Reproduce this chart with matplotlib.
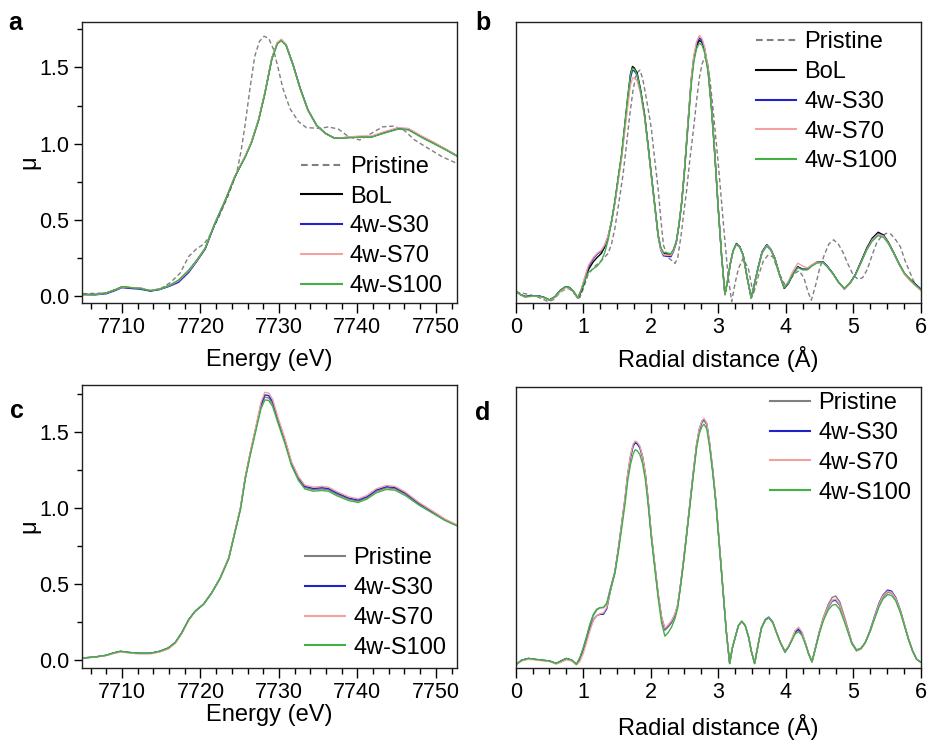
import matplotlib
matplotlib.use('Agg')
import matplotlib.pyplot as plt
from matplotlib.ticker import MultipleLocator

plt.rcParams['font.family'] = ['Liberation Sans', 'DejaVu Sans']

# ---- panel a: XANES, pristine vs cycled ----
e_pris_a = [7705.0, 7708.0, 7710.0, 7712.6, 7713.6, 7715.0, 7716.2, 7717.4, 7718.5, 7719.5,
            7720.4, 7721.0, 7722.3, 7723.5, 7724.6, 7725.2, 7725.7, 7726.3, 7726.9, 7727.5,
            7728.1, 7728.7, 7729.3, 7729.8, 7730.5, 7731.4, 7732.5, 7733.5, 7735.3, 7736.3,
            7737.6, 7738.9, 7740.3, 7741.8, 7743.2, 7744.5, 7745.8, 7747.3, 7749.0, 7750.8, 7752.7]
mu_pris_a = [0.015, 0.02, 0.06, 0.05, 0.035, 0.05, 0.09, 0.15, 0.26, 0.31,
             0.34, 0.38, 0.515, 0.655, 0.805, 0.96, 1.13, 1.36, 1.57, 1.67,
             1.705, 1.69, 1.62, 1.516, 1.363, 1.23, 1.144, 1.105, 1.10, 1.11,
             1.095, 1.045, 1.024, 1.068, 1.11, 1.115, 1.095, 1.024, 0.97, 0.914, 0.87]

e_a = [7705.0, 7706.6, 7708.0, 7709.1, 7710.0, 7711.0, 7712.3, 7713.6, 7714.8, 7716.1,
       7717.2, 7718.5, 7719.5, 7720.6, 7721.8, 7723.1, 7724.4, 7725.7, 7726.5, 7727.4,
       7728.2, 7729.1, 7729.8, 7730.3, 7730.9, 7731.8, 7732.7, 7733.7, 7734.8, 7735.9,
       7737.1, 7738.6, 7740.3, 7741.8, 7743.5, 7745.2, 7746.5, 7748.2, 7749.9, 7751.4, 7752.7]
mu_bol_a = [0.01, 0.01, 0.02, 0.04, 0.06, 0.055, 0.05, 0.035, 0.045, 0.07,
            0.10, 0.165, 0.23, 0.31, 0.47, 0.62, 0.785, 0.915, 1.01, 1.155,
            1.33, 1.56, 1.66, 1.68, 1.647, 1.516, 1.363, 1.22, 1.12, 1.068,
            1.035, 1.04, 1.045, 1.045, 1.074, 1.10, 1.095, 1.045, 1.00, 0.958, 0.92]
mu_s30_a = [0.01, 0.008, 0.015, 0.035, 0.055, 0.05, 0.045, 0.032, 0.042, 0.065,
            0.09, 0.155, 0.225, 0.31, 0.47, 0.62, 0.785, 0.915, 1.01, 1.155,
            1.33, 1.56, 1.66, 1.682, 1.65, 1.52, 1.365, 1.22, 1.12, 1.068,
            1.035, 1.04, 1.045, 1.045, 1.074, 1.10, 1.095, 1.045, 1.00, 0.958, 0.92]
mu_s70_a = [0.01, 0.01, 0.02, 0.04, 0.058, 0.057, 0.052, 0.037, 0.045, 0.07,
            0.10, 0.165, 0.23, 0.315, 0.475, 0.625, 0.79, 0.92, 1.015, 1.16,
            1.335, 1.565, 1.665, 1.685, 1.65, 1.516, 1.36, 1.218, 1.118, 1.066,
            1.035, 1.042, 1.05, 1.05, 1.08, 1.105, 1.10, 1.05, 1.005, 0.96, 0.922]
mu_s100_a = [0.01, 0.01, 0.02, 0.04, 0.06, 0.055, 0.05, 0.035, 0.045, 0.072,
             0.105, 0.17, 0.235, 0.315, 0.475, 0.622, 0.785, 0.912, 1.005, 1.15,
             1.325, 1.555, 1.655, 1.675, 1.645, 1.515, 1.362, 1.22, 1.12, 1.068,
             1.035, 1.038, 1.042, 1.042, 1.07, 1.095, 1.09, 1.04, 0.995, 0.955, 0.918]

# ---- panel b: FT-EXAFS, pristine vs cycled ----
r_pris_b = [0.0, 0.1, 0.2, 0.3, 0.4, 0.48, 0.56, 0.63, 0.7, 0.78, 0.84, 0.9, 0.95, 1.0, 1.07,
            1.15, 1.22, 1.3, 1.37, 1.42, 1.47, 1.53, 1.59, 1.64, 1.69, 1.74, 1.79, 1.84, 1.88,
            1.92, 1.97, 2.01, 2.06, 2.11, 2.15, 2.19, 2.26, 2.32, 2.36, 2.40, 2.45, 2.49, 2.53,
            2.58, 2.63, 2.68, 2.72, 2.76, 2.80, 2.84, 2.88, 2.92, 2.96, 3.0, 3.05, 3.1, 3.15,
            3.2, 3.25, 3.3, 3.37, 3.45, 3.52, 3.6, 3.67, 3.74, 3.81, 3.88, 3.94, 4.0, 4.06,
            4.13, 4.2, 4.27, 4.33, 4.38, 4.44, 4.5, 4.57, 4.64, 4.71, 4.78, 4.85, 4.92, 5.0,
            5.07, 5.14, 5.21, 5.28, 5.35, 5.42, 5.49, 5.56, 5.63, 5.7, 5.77, 5.84, 5.91, 6.0]
ft_pris_b = [0.038, 0.035, 0.03, 0.024, 0.014, 0.005, 0.012, 0.03, 0.045, 0.052, 0.042, 0.025, 0.019, 0.05, 0.1,
             0.125, 0.141, 0.158, 0.177, 0.21, 0.266, 0.36, 0.456, 0.56, 0.669, 0.76, 0.817, 0.829, 0.80,
             0.75, 0.68, 0.62, 0.51, 0.408, 0.3, 0.205, 0.161, 0.15, 0.141, 0.16, 0.24, 0.32, 0.396,
             0.51, 0.61, 0.72, 0.80, 0.85, 0.875, 0.86, 0.79, 0.70, 0.60, 0.50, 0.36, 0.22, 0.09,
             0.005, 0.07, 0.123, 0.159, 0.12, 0.03, 0.1, 0.15, 0.171, 0.165, 0.12, 0.088, 0.06, 0.08,
             0.105, 0.115, 0.09, 0.04, 0.01, 0.06, 0.12, 0.17, 0.21, 0.225, 0.21, 0.18, 0.14, 0.1,
             0.085, 0.09, 0.12, 0.17, 0.215, 0.238, 0.248, 0.245, 0.225, 0.2, 0.15, 0.11, 0.07, 0.045]

r_b = [0.0, 0.07, 0.14, 0.24, 0.33, 0.42, 0.5, 0.58, 0.66, 0.74, 0.8, 0.86, 0.92, 0.97, 1.02,
       1.08, 1.15, 1.21, 1.27, 1.32, 1.37, 1.42, 1.47, 1.52, 1.57, 1.62, 1.66, 1.70, 1.73, 1.76,
       1.80, 1.85, 1.91, 1.96, 2.01, 2.06, 2.11, 2.15, 2.19, 2.25, 2.30, 2.34, 2.38, 2.42, 2.46,
       2.50, 2.55, 2.60, 2.64, 2.68, 2.72, 2.76, 2.80, 2.85, 2.90, 2.95, 3.00, 3.05, 3.10, 3.14,
       3.18, 3.22, 3.27, 3.32, 3.37, 3.43, 3.49, 3.54, 3.59, 3.65, 3.72, 3.78, 3.84, 3.91, 3.98,
       4.04, 4.1, 4.18, 4.25, 4.32, 4.38, 4.46, 4.55, 4.62, 4.70, 4.78, 4.87, 4.95, 5.03, 5.12,
       5.20, 5.28, 5.37, 5.45, 5.52, 5.60, 5.68, 5.76, 5.84, 5.92, 6.0]
ft_bol_b = [0.043, 0.03, 0.023, 0.026, 0.026, 0.02, 0.011, 0.022, 0.045, 0.058, 0.055, 0.04, 0.017, 0.04, 0.076,
            0.12, 0.147, 0.163, 0.177, 0.2, 0.235, 0.29, 0.36, 0.445, 0.527, 0.64, 0.73, 0.815, 0.842, 0.836,
            0.818, 0.76, 0.669, 0.565, 0.456, 0.35, 0.242, 0.195, 0.177, 0.175, 0.173, 0.19, 0.218, 0.28, 0.36,
            0.47, 0.63, 0.788, 0.87, 0.915, 0.935, 0.928, 0.9, 0.83, 0.70, 0.53, 0.34, 0.17, 0.03, 0.08,
            0.14, 0.185, 0.212, 0.2, 0.171, 0.09, 0.017, 0.07, 0.123, 0.18, 0.206, 0.19, 0.159, 0.1, 0.052,
            0.07, 0.1, 0.129, 0.12, 0.12, 0.133, 0.145, 0.147, 0.13, 0.105, 0.075, 0.05, 0.07, 0.10, 0.15,
            0.195, 0.23, 0.252, 0.242, 0.217, 0.18, 0.14, 0.105, 0.085, 0.068, 0.05]
ft_s30_b = [0.043, 0.03, 0.023, 0.026, 0.026, 0.02, 0.011, 0.022, 0.045, 0.058, 0.055, 0.04, 0.017, 0.045, 0.085,
            0.13, 0.158, 0.175, 0.185, 0.205, 0.238, 0.29, 0.36, 0.445, 0.525, 0.635, 0.722, 0.8, 0.828, 0.826,
            0.81, 0.755, 0.667, 0.562, 0.452, 0.345, 0.238, 0.188, 0.168, 0.166, 0.165, 0.185, 0.215, 0.28, 0.36,
            0.47, 0.632, 0.792, 0.876, 0.922, 0.943, 0.935, 0.905, 0.832, 0.70, 0.53, 0.34, 0.17, 0.03, 0.08,
            0.14, 0.185, 0.21, 0.2, 0.171, 0.09, 0.017, 0.072, 0.126, 0.183, 0.208, 0.192, 0.16, 0.1, 0.052,
            0.07, 0.1, 0.129, 0.12, 0.12, 0.133, 0.145, 0.147, 0.13, 0.105, 0.075, 0.05, 0.07, 0.10, 0.148,
            0.192, 0.226, 0.248, 0.24, 0.215, 0.178, 0.138, 0.104, 0.083, 0.066, 0.05]
ft_s70_b = [0.043, 0.03, 0.02, 0.024, 0.024, 0.018, 0.01, 0.02, 0.04, 0.055, 0.053, 0.04, 0.017, 0.048, 0.09,
            0.135, 0.162, 0.178, 0.188, 0.208, 0.24, 0.29, 0.355, 0.435, 0.515, 0.62, 0.70, 0.775, 0.80, 0.803,
            0.79, 0.745, 0.66, 0.558, 0.45, 0.345, 0.24, 0.19, 0.172, 0.17, 0.17, 0.188, 0.218, 0.282, 0.362,
            0.472, 0.636, 0.798, 0.882, 0.93, 0.952, 0.942, 0.91, 0.835, 0.70, 0.53, 0.34, 0.17, 0.03, 0.08,
            0.14, 0.184, 0.208, 0.198, 0.17, 0.09, 0.017, 0.07, 0.122, 0.18, 0.205, 0.19, 0.158, 0.1, 0.055,
            0.078, 0.11, 0.142, 0.132, 0.125, 0.135, 0.145, 0.145, 0.128, 0.103, 0.073, 0.05, 0.068, 0.098, 0.146,
            0.19, 0.224, 0.245, 0.238, 0.214, 0.178, 0.138, 0.102, 0.08, 0.062, 0.045]
ft_s100_b = [0.045, 0.03, 0.022, 0.025, 0.025, 0.02, 0.011, 0.022, 0.045, 0.058, 0.055, 0.04, 0.02, 0.045, 0.078,
             0.11, 0.122, 0.132, 0.15, 0.18, 0.225, 0.29, 0.365, 0.45, 0.532, 0.645, 0.735, 0.812, 0.836, 0.832,
             0.812, 0.755, 0.665, 0.562, 0.455, 0.35, 0.245, 0.197, 0.18, 0.178, 0.176, 0.192, 0.22, 0.28, 0.358,
             0.465, 0.62, 0.775, 0.86, 0.905, 0.925, 0.918, 0.89, 0.822, 0.69, 0.525, 0.338, 0.17, 0.032, 0.08,
             0.14, 0.185, 0.21, 0.198, 0.17, 0.09, 0.02, 0.07, 0.122, 0.178, 0.203, 0.188, 0.156, 0.1, 0.055,
             0.072, 0.1, 0.126, 0.118, 0.118, 0.13, 0.142, 0.144, 0.128, 0.104, 0.075, 0.052, 0.07, 0.098, 0.145,
             0.188, 0.22, 0.24, 0.234, 0.212, 0.178, 0.14, 0.106, 0.085, 0.065, 0.048]

# ---- panel c: XANES, pristine vs soaked ----
e_c = [7705.0, 7706.6, 7708.0, 7708.9, 7709.8, 7710.8, 7712.1, 7713.6, 7714.8, 7715.9,
       7716.8, 7717.6, 7718.5, 7719.3, 7720.4, 7721.4, 7722.5, 7723.6, 7724.4, 7725.1,
       7725.7, 7726.3, 7727.2, 7727.7, 7728.2, 7728.7, 7729.2, 7729.9, 7730.8, 7731.6,
       7732.5, 7733.3, 7734.4, 7735.5, 7736.3, 7737.4, 7738.9, 7740.1, 7741.2, 7742.4,
       7743.7, 7744.8, 7746.1, 7747.8, 7749.5, 7751.2, 7752.7]
mu_pris_c = [0.011, 0.018, 0.029, 0.044, 0.055, 0.048, 0.042, 0.042, 0.055, 0.077,
             0.114, 0.176, 0.264, 0.318, 0.367, 0.439, 0.538, 0.67, 0.845, 0.999,
             1.197, 1.35, 1.555, 1.67, 1.73, 1.725, 1.685, 1.57, 1.43, 1.29,
             1.19, 1.135, 1.12, 1.125, 1.12, 1.09, 1.058, 1.045, 1.067, 1.11,
             1.133, 1.127, 1.092, 1.028, 0.974, 0.92, 0.884]
mu_s30_c = [0.011, 0.018, 0.029, 0.044, 0.055, 0.048, 0.042, 0.042, 0.055, 0.077,
            0.114, 0.176, 0.264, 0.318, 0.367, 0.439, 0.538, 0.67, 0.845, 0.999,
            1.197, 1.35, 1.56, 1.68, 1.745, 1.74, 1.70, 1.58, 1.44, 1.295,
            1.197, 1.142, 1.128, 1.133, 1.128, 1.098, 1.065, 1.052, 1.074, 1.118,
            1.14, 1.134, 1.098, 1.032, 0.977, 0.922, 0.885]
mu_s70_c = [0.011, 0.017, 0.027, 0.04, 0.05, 0.045, 0.038, 0.038, 0.05, 0.07,
            0.108, 0.17, 0.26, 0.316, 0.366, 0.438, 0.538, 0.672, 0.848, 1.004,
            1.203, 1.357, 1.57, 1.695, 1.762, 1.757, 1.715, 1.592, 1.45, 1.305,
            1.205, 1.15, 1.137, 1.142, 1.137, 1.107, 1.073, 1.06, 1.082, 1.126,
            1.148, 1.142, 1.105, 1.038, 0.982, 0.926, 0.888]
mu_s100_c = [0.011, 0.018, 0.029, 0.044, 0.055, 0.048, 0.042, 0.042, 0.055, 0.077,
             0.114, 0.176, 0.264, 0.318, 0.365, 0.436, 0.534, 0.664, 0.838, 0.99,
             1.186, 1.338, 1.54, 1.652, 1.712, 1.708, 1.668, 1.556, 1.418, 1.278,
             1.18, 1.125, 1.11, 1.115, 1.11, 1.08, 1.048, 1.036, 1.058, 1.1,
             1.122, 1.117, 1.082, 1.02, 0.968, 0.916, 0.882]

# ---- panel d: FT-EXAFS, pristine vs soaked ----
r_d = [0.0, 0.09, 0.19, 0.28, 0.38, 0.5, 0.6, 0.68, 0.75, 0.83, 0.9, 0.95, 1.0, 1.05, 1.1,
       1.15, 1.2, 1.25, 1.3, 1.35, 1.4, 1.47, 1.52, 1.57, 1.62, 1.66, 1.70, 1.74, 1.77, 1.80,
       1.84, 1.88, 1.92, 1.96, 2.01, 2.06, 2.11, 2.16, 2.21, 2.26, 2.31, 2.36, 2.40, 2.44, 2.48,
       2.53, 2.58, 2.63, 2.68, 2.72, 2.76, 2.79, 2.83, 2.87, 2.92, 2.97, 3.02, 3.07, 3.12, 3.17,
       3.21, 3.26, 3.30, 3.35, 3.40, 3.45, 3.49, 3.54, 3.59, 3.64, 3.70, 3.75, 3.81, 3.86, 3.92,
       3.99, 4.04, 4.09, 4.14, 4.19, 4.24, 4.29, 4.34, 4.39, 4.45, 4.50, 4.56, 4.63, 4.69, 4.74,
       4.80, 4.86, 4.92, 4.98, 5.05, 5.12, 5.18, 5.25, 5.32, 5.38, 5.44, 5.51, 5.57, 5.63, 5.70,
       5.76, 5.82, 5.88, 5.94, 6.0]
ft_pris_d = [0.01, 0.027, 0.033, 0.03, 0.027, 0.024, 0.015, 0.025, 0.033, 0.027, 0.012, 0.035, 0.069, 0.11, 0.152,
             0.185, 0.205, 0.213, 0.214, 0.23, 0.28, 0.342, 0.42, 0.51, 0.6, 0.686, 0.75, 0.79, 0.804, 0.80,
             0.785, 0.75, 0.69, 0.60, 0.47, 0.365, 0.26, 0.176, 0.133, 0.145, 0.16, 0.185, 0.22, 0.29, 0.365,
             0.47, 0.58, 0.69, 0.79, 0.845, 0.872, 0.88, 0.865, 0.80, 0.70, 0.58, 0.43, 0.28, 0.13, 0.015,
             0.07, 0.115, 0.15, 0.165, 0.15, 0.11, 0.06, 0.015, 0.08, 0.14, 0.17, 0.178, 0.16, 0.128, 0.09,
             0.057, 0.075, 0.1, 0.13, 0.14, 0.125, 0.09, 0.05, 0.021, 0.08, 0.13, 0.18, 0.225, 0.25, 0.255,
             0.235, 0.19, 0.14, 0.09, 0.063, 0.07, 0.09, 0.13, 0.18, 0.22, 0.25, 0.268, 0.265, 0.245, 0.2,
             0.15, 0.1, 0.06, 0.03, 0.02]
ft_s30_d = [0.01, 0.027, 0.033, 0.03, 0.027, 0.024, 0.015, 0.025, 0.033, 0.027, 0.012, 0.03, 0.062, 0.1, 0.14,
            0.17, 0.185, 0.19, 0.19, 0.21, 0.27, 0.34, 0.42, 0.51, 0.6, 0.686, 0.748, 0.788, 0.8, 0.796,
            0.782, 0.748, 0.69, 0.60, 0.47, 0.365, 0.262, 0.18, 0.138, 0.15, 0.165, 0.19, 0.222, 0.29, 0.365,
            0.47, 0.58, 0.69, 0.792, 0.848, 0.876, 0.884, 0.868, 0.802, 0.70, 0.58, 0.43, 0.28, 0.13, 0.015,
            0.07, 0.115, 0.15, 0.165, 0.15, 0.11, 0.06, 0.015, 0.08, 0.142, 0.172, 0.18, 0.162, 0.128, 0.09,
            0.055, 0.073, 0.098, 0.126, 0.136, 0.122, 0.088, 0.05, 0.021, 0.078, 0.127, 0.175, 0.215, 0.237, 0.24,
            0.222, 0.18, 0.135, 0.088, 0.06, 0.068, 0.09, 0.132, 0.185, 0.228, 0.258, 0.276, 0.272, 0.25, 0.204,
            0.153, 0.102, 0.06, 0.03, 0.02]
ft_s70_d = [0.01, 0.024, 0.03, 0.028, 0.025, 0.022, 0.013, 0.02, 0.028, 0.024, 0.01, 0.022, 0.05, 0.09, 0.132,
            0.168, 0.185, 0.192, 0.195, 0.215, 0.272, 0.34, 0.42, 0.512, 0.605, 0.69, 0.755, 0.795, 0.806, 0.802,
            0.788, 0.752, 0.692, 0.602, 0.475, 0.37, 0.265, 0.182, 0.14, 0.152, 0.167, 0.192, 0.225, 0.292, 0.368,
            0.472, 0.582, 0.692, 0.794, 0.85, 0.878, 0.886, 0.87, 0.805, 0.705, 0.585, 0.435, 0.282, 0.13, 0.015,
            0.07, 0.115, 0.15, 0.165, 0.15, 0.11, 0.06, 0.015, 0.08, 0.14, 0.17, 0.178, 0.16, 0.128, 0.09,
            0.057, 0.076, 0.102, 0.132, 0.144, 0.128, 0.09, 0.05, 0.021, 0.078, 0.128, 0.177, 0.218, 0.24, 0.244,
            0.225, 0.182, 0.136, 0.088, 0.06, 0.068, 0.09, 0.13, 0.182, 0.224, 0.255, 0.272, 0.268, 0.247, 0.202,
            0.152, 0.102, 0.06, 0.03, 0.02]
ft_s100_d = [0.01, 0.027, 0.033, 0.03, 0.027, 0.024, 0.015, 0.025, 0.033, 0.027, 0.012, 0.035, 0.069, 0.11, 0.155,
             0.19, 0.208, 0.214, 0.214, 0.228, 0.275, 0.335, 0.41, 0.495, 0.582, 0.665, 0.722, 0.76, 0.775, 0.772,
             0.758, 0.725, 0.67, 0.585, 0.46, 0.355, 0.25, 0.162, 0.112, 0.125, 0.145, 0.175, 0.212, 0.285, 0.36,
             0.465, 0.572, 0.68, 0.78, 0.833, 0.858, 0.866, 0.85, 0.79, 0.692, 0.574, 0.425, 0.278, 0.13, 0.015,
             0.07, 0.115, 0.15, 0.165, 0.15, 0.11, 0.06, 0.015, 0.08, 0.14, 0.17, 0.177, 0.16, 0.127, 0.09,
             0.057, 0.073, 0.096, 0.12, 0.128, 0.115, 0.085, 0.048, 0.021, 0.076, 0.122, 0.168, 0.205, 0.222, 0.225,
             0.208, 0.17, 0.128, 0.085, 0.062, 0.07, 0.09, 0.128, 0.175, 0.215, 0.244, 0.26, 0.257, 0.238, 0.195,
             0.148, 0.1, 0.06, 0.03, 0.02]

labels_ab = ['Pristine', 'BoL', '4w-S30', '4w-S70', '4w-S100']
labels_cd = ['Pristine', '4w-S30', '4w-S70', '4w-S100']

c_pris = '#7f7f7f'
c_bol = '#000000'
c_s30 = '#2222cc'
c_s70 = '#f2a0a0'
c_s100 = '#44b044'
lw = 1.0

fig = plt.figure(figsize=(9.28, 7.40), dpi=100)
ax_a = fig.add_axes([0.0884, 0.5905, 0.4041, 0.3797])
ax_b = fig.add_axes([0.5557, 0.5905, 0.4364, 0.3797])
ax_c = fig.add_axes([0.0884, 0.0977, 0.4041, 0.3820])
ax_d = fig.add_axes([0.5557, 0.0977, 0.4364, 0.3800])

# a
ax_a.plot(e_pris_a, mu_pris_a, color=c_pris, lw=lw, dashes=(3.2, 2.0), label=labels_ab[0])
ax_a.plot(e_a, mu_bol_a, color=c_bol, lw=lw, label=labels_ab[1])
ax_a.plot(e_a, mu_s30_a, color=c_s30, lw=lw, label=labels_ab[2])
ax_a.plot(e_a, mu_s70_a, color=c_s70, lw=lw, label=labels_ab[3])
ax_a.plot(e_a, mu_s100_a, color=c_s100, lw=lw, label=labels_ab[4])

# b
ax_b.plot(r_pris_b, ft_pris_b, color=c_pris, lw=lw, dashes=(3.2, 2.0), label=labels_ab[0])
ax_b.plot(r_b, ft_bol_b, color=c_bol, lw=lw, label=labels_ab[1])
ax_b.plot(r_b, ft_s30_b, color=c_s30, lw=lw, label=labels_ab[2])
ax_b.plot(r_b, ft_s70_b, color=c_s70, lw=lw, label=labels_ab[3])
ax_b.plot(r_b, ft_s100_b, color=c_s100, lw=lw, label=labels_ab[4])

# c
ax_c.plot(e_c, mu_pris_c, color=c_pris, lw=lw, label=labels_cd[0])
ax_c.plot(e_c, mu_s30_c, color=c_s30, lw=lw, label=labels_cd[1])
ax_c.plot(e_c, mu_s70_c, color=c_s70, lw=lw, label=labels_cd[2])
ax_c.plot(e_c, mu_s100_c, color=c_s100, lw=lw, label=labels_cd[3])

# d
ax_d.plot(r_d, ft_pris_d, color=c_pris, lw=lw, label=labels_cd[0])
ax_d.plot(r_d, ft_s30_d, color=c_s30, lw=lw, label=labels_cd[1])
ax_d.plot(r_d, ft_s70_d, color=c_s70, lw=lw, label=labels_cd[2])
ax_d.plot(r_d, ft_s100_d, color=c_s100, lw=lw, label=labels_cd[3])

tick_fs = 15.5
lab_fs = 17

for ax in (ax_a, ax_c):
    ax.set_xlim(7704.9, 7752.7)
    ax.xaxis.set_major_locator(MultipleLocator(10))
    ax.xaxis.set_minor_locator(MultipleLocator(2))
    ax.yaxis.set_major_locator(MultipleLocator(0.5))
    ax.yaxis.set_minor_locator(MultipleLocator(0.25))
    ax.yaxis.set_major_formatter(matplotlib.ticker.FormatStrFormatter('%.1f'))
    ax.set_ylabel('μ', fontsize=lab_fs, labelpad=-1)
    ax.tick_params(axis='y', which='major', direction='out', length=6, width=1, labelsize=tick_fs, pad=3)
    ax.tick_params(axis='y', which='minor', direction='out', length=3.5, width=1)
ax_a.set_ylim(-0.046, 1.798)
ax_c.set_ylim(-0.053, 1.81)
ax_a.set_xlabel('Energy (eV)', fontsize=lab_fs, labelpad=8)
ax_c.set_xlabel('Energy (eV)', fontsize=lab_fs, labelpad=1)

for ax in (ax_b, ax_d):
    ax.set_xlim(0, 6)
    ax.set_ylim(0, 1)
    ax.xaxis.set_major_locator(MultipleLocator(1))
    ax.xaxis.set_minor_locator(MultipleLocator(0.25))
    ax.tick_params(axis='y', which='both', left=False, labelleft=False)
ax_b.set_xlabel('Radial distance (Å)', fontsize=lab_fs, labelpad=6)
ax_d.set_xlabel('Radial distance (Å)', fontsize=lab_fs, labelpad=8)

for ax in (ax_a, ax_b, ax_c, ax_d):
    ax.tick_params(axis='x', which='major', direction='out', length=7, width=1, labelsize=tick_fs, pad=3)
    ax.tick_params(axis='x', which='minor', direction='out', length=4, width=1)
    for sp in ax.spines.values():
        sp.set_linewidth(1.0)
        sp.set_color('#222222')

leg_kw = dict(frameon=False, fontsize=lab_fs, handlelength=1.7, handletextpad=0.35,
              labelspacing=0.33, borderpad=0, borderaxespad=0, loc='upper left')
for ax, anchor in ((ax_a, (0.585, 0.524)), (ax_b, (0.593, 0.967)),
                   (ax_c, (0.595, 0.426)), (ax_d, (0.628, 0.98))):
    leg = ax.legend(bbox_to_anchor=anchor, **leg_kw)
    for h in leg.get_lines():
        h.set_linewidth(1.5)

fig.text(0.009, 0.9595, 'a', fontsize=18, fontweight='bold')
fig.text(0.512, 0.9595, 'b', fontsize=18, fontweight='bold')
fig.text(0.011, 0.435, 'c', fontsize=18, fontweight='bold')
fig.text(0.512, 0.4324, 'd', fontsize=18, fontweight='bold')

fig.savefig('out.png', dpi=100)
